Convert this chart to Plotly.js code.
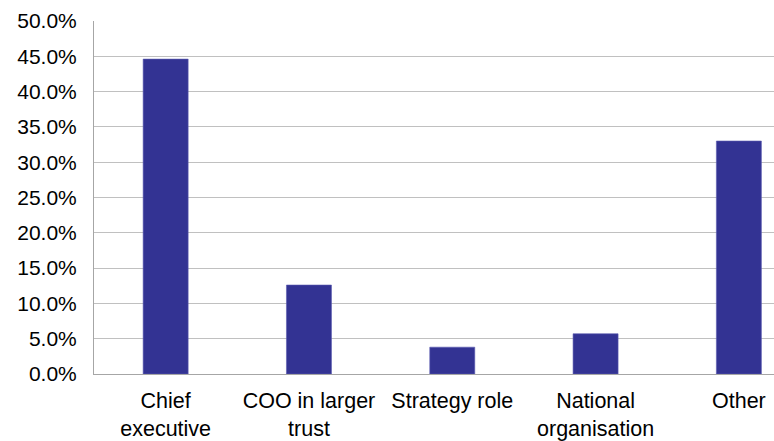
<!DOCTYPE html>
<html>
<head>
<meta charset="utf-8">
<script src="https://cdn.plot.ly/plotly-3.0.1.min.js"></script>
<style>html,body{margin:0;padding:0;background:#fff;}#chart{width:774px;height:441px;}</style>
</head>
<body>
<div id="chart"></div>
<script>
const categories = ["Chief<br>executive", "COO in larger<br>trust", "Strategy role", "National<br>organisation", "Other"];
const values = [44.6, 12.6, 3.8, 5.7, 33.0];

const trace = {
  type: 'bar',
  x: categories,
  y: values,
  marker: {color: '#333393', line: {color: '#5a5ab0', width: 0.6}},
  hoverinfo: 'skip'
};

const layout = {
  width: 774, height: 441,
  margin: {l: 94, r: 0, t: 21, b: 67},
  paper_bgcolor: '#ffffff', plot_bgcolor: '#ffffff',
  bargap: 0.686,
  showlegend: false,
  font: {family: 'Liberation Sans, Arial, sans-serif', color: '#000000', size: 20},
  xaxis: {
    type: 'category',
    range: [-0.5, 4.245],
    showgrid: false,
    showline: true, linecolor: '#a6a6a6', linewidth: 1,
    ticks: '', tickfont: {size: 21.5},
    ticklabelstandoff: 7,
    fixedrange: true
  },
  yaxis: {
    range: [0, 50], dtick: 5, tick0: 0,
    tickformat: '.1f', ticksuffix: '%',
    showgrid: true, gridcolor: '#c0c0c0', gridwidth: 1,
    zeroline: false,
    showline: true, linecolor: '#a6a6a6', linewidth: 1,
    ticks: '', tickfont: {size: 21},
    ticklabelstandoff: 12,
    fixedrange: true
  }
};

Plotly.newPlot('chart', [trace], layout, {displayModeBar: false, staticPlot: true});
</script>
</body>
</html>
